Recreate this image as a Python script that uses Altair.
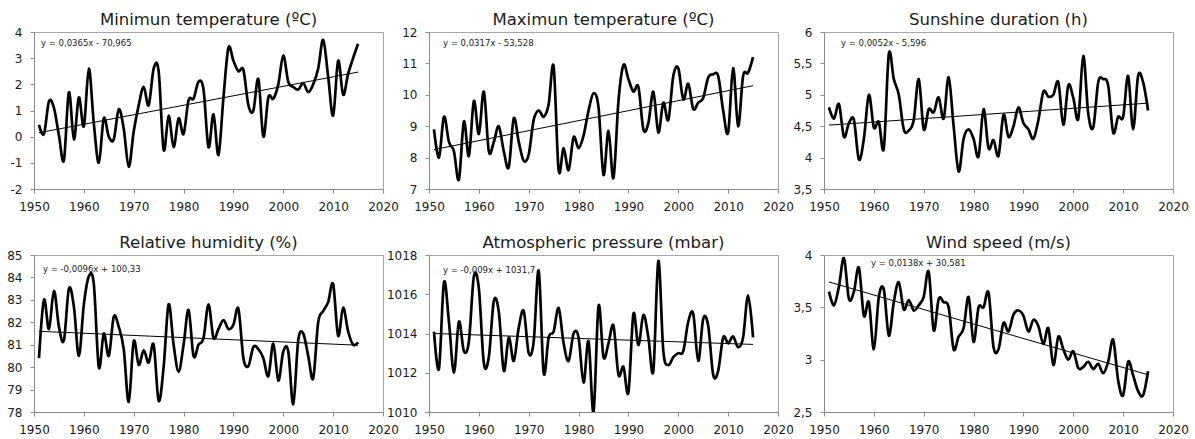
import altair as alt
import pandas as pd

years = list(range(1951, 2016))

min_temp = [0.45, 0.1, 1.35, 1.1, 0.05, -0.9, 1.7, -0.1, 1.5, 0.4,
            2.6, 0.5, -1.0, 0.7, 0.0, -0.1, 1.05, 0.3, -1.15, 0.2,
            1.2, 1.9, 1.2, 2.6, 2.5, -0.5, 0.8, -0.4, 0.7, 0.1,
            1.4, 1.45, 2.1, 1.8, -0.4, 0.85, -0.7, 1.5, 3.4, 2.9,
            2.5, 2.55, 1.2, 1.0, 2.2, 0.0, 1.5, 1.45, 2.0, 3.1,
            2.1, 1.9, 1.8, 2.05, 1.7, 2.0, 2.6, 3.7, 2.3, 0.8,
            2.9, 1.6, 2.4, 3.0, 3.55]

max_temp = [8.9, 8.0, 9.3, 8.5, 8.2, 7.3, 9.15, 8.05, 9.8, 8.75,
            10.1, 8.2, 8.5, 9.0, 8.2, 7.7, 9.25, 8.5, 7.9, 8.1,
            9.2, 9.5, 9.3, 9.7, 10.9, 7.6, 8.3, 7.6, 8.65, 8.3,
            8.7, 9.5, 10.05, 9.6, 7.45, 8.85, 7.35, 9.8, 10.95, 10.5,
            10.1, 10.25, 8.9, 9.1, 10.1, 8.8, 9.75, 9.2, 10.6, 10.85,
            9.85, 10.35, 9.55, 9.75, 9.9, 10.55, 10.65, 10.6, 9.5, 8.8,
            10.85, 9.0, 10.6, 10.7, 11.2]

sunshine = [4.8, 4.62, 4.85, 4.33, 4.55, 4.6, 3.97, 4.3, 5.0, 4.48,
            4.57, 4.15, 5.65, 5.25, 5.0, 4.45, 4.43, 4.6, 5.25, 4.45,
            4.77, 4.72, 4.96, 4.62, 5.28, 4.5, 3.78, 4.3, 4.45, 4.3,
            4.02, 4.77, 4.15, 4.28, 4.03, 4.68, 4.33, 4.5, 4.8, 4.55,
            4.45, 4.3, 4.6, 5.05, 4.97, 5.0, 5.2, 4.52, 5.15, 4.95,
            4.62, 5.62, 4.7, 4.48, 5.2, 5.25, 5.15, 4.4, 4.65, 4.65,
            5.3, 4.45, 5.3, 5.2, 4.75]

humidity = [80.4, 83.0, 81.7, 83.4, 81.8, 81.2, 83.5, 82.7, 80.5, 82.8,
            84.05, 83.7, 80.0, 81.5, 80.5, 82.25, 81.8, 80.8, 78.45, 81.15,
            80.1, 80.75, 80.2, 81.0, 78.5, 80.0, 82.8, 81.0, 79.8, 81.0,
            82.55, 80.5, 81.0, 81.3, 82.8, 81.3, 81.7, 82.1, 81.7, 81.9,
            82.6, 80.4, 80.05, 80.9, 80.8, 80.4, 79.6, 81.05, 79.4, 80.7,
            80.7, 78.35, 81.2, 81.5, 80.5, 79.5, 82.0, 82.5, 82.9, 83.7,
            81.4, 82.65, 81.6, 81.0, 81.1]

pressure = [1014.1, 1012.2, 1016.6, 1014.6, 1012.0, 1014.6, 1013.1, 1013.6, 1016.9, 1016.3,
            1012.5, 1012.8, 1015.65, 1015.1, 1012.1, 1013.8, 1012.6, 1014.3, 1015.15, 1013.0,
            1013.6, 1017.2, 1012.0, 1013.8, 1014.1, 1015.3, 1013.5, 1012.6, 1014.0, 1013.8,
            1011.5, 1013.6, 1010.0, 1015.4, 1012.8, 1013.5, 1014.4, 1011.9, 1012.3, 1011.0,
            1015.0, 1013.4, 1014.95, 1013.8, 1012.1, 1017.7, 1013.1, 1012.4, 1012.8, 1013.0,
            1013.1, 1014.6, 1015.0, 1012.6, 1014.75, 1014.4, 1011.9, 1012.1, 1013.8, 1013.5,
            1013.85, 1013.3, 1013.8, 1015.95, 1013.8]

wind = [3.65, 3.52, 3.7, 3.97, 3.58, 3.65, 3.88, 3.42, 3.55, 3.1,
        3.6, 3.67, 3.23, 3.55, 3.74, 3.48, 3.57, 3.47, 3.52, 3.6,
        3.84, 3.28, 3.58, 3.55, 3.5, 3.1, 3.22, 3.3, 3.6, 3.17,
        3.5, 3.5, 3.64, 3.12, 3.1, 3.35, 3.27, 3.43, 3.47, 3.42,
        3.27, 3.38, 3.32, 3.15, 3.3, 2.95, 3.22, 3.1, 3.0, 3.08,
        2.92, 2.93, 2.98, 2.91, 2.96, 2.87, 2.98, 3.19, 2.8, 2.66,
        2.98, 2.85, 2.7, 2.66, 2.89]

titles = ["Minimun temperature (ºC)", "Maximun temperature (ºC)", "Sunshine duration (h)",
          "Relative humidity (%)", "Atmospheric pressure (mbar)", "Wind speed (m/s)"]

equations = ["y = 0,0365x - 70,965", "y = 0,0317x - 53,528", "y = 0,0052x - 5,596",
             "y = -0,0096x + 100,33", "y = -0,009x + 1031,7", "y =  0,0138x + 30,581"]

x_ticks = [1950, 1960, 1970, 1980, 1990, 2000, 2010, 2020]
y_ticks_min = [-2, -1, 0, 1, 2, 3, 4]
y_ticks_max = [7, 8, 9, 10, 11, 12]
y_ticks_sun = [3.5, 4, 4.5, 5, 5.5, 6]
y_ticks_hum = [78, 79, 80, 81, 82, 83, 84, 85]
y_ticks_pre = [1010, 1012, 1014, 1016, 1018]
y_ticks_win = [2.5, 3, 3.5, 4]

series = [min_temp, max_temp, sunshine, humidity, pressure, wind]
yticks = [y_ticks_min, y_ticks_max, y_ticks_sun, y_ticks_hum, y_ticks_pre, y_ticks_win]
eq_pos = [(7, 11), (14, 11), (17, 11), (9, 14), (14, 15), (47, 8)]

FONT = "DejaVu Sans"
W, H = 349, 157


def panel(i):
    df = pd.DataFrame({"year": years, "value": series[i]})
    yt = yticks[i]
    x = alt.X("year:Q", scale=alt.Scale(domain=[1950, 2020], nice=False, zero=False),
              axis=alt.Axis(values=x_ticks, format="d", title=None,
                            labelFlush=False, labelOverlap=False))
    y = alt.Y("value:Q", scale=alt.Scale(domain=[yt[0], yt[-1]], nice=False, zero=False),
              axis=alt.Axis(values=yt, title=None, labelOverlap=False,
                            labelExpr="replace(toString(datum.value), '.', ',')"))
    base = alt.Chart(df)
    line = base.mark_line(interpolate="cardinal", color="black", strokeWidth=2.7,
                          clip=True).encode(x=x, y=y)
    trend = base.transform_regression("year", "value", extent=[1951, 2015]).mark_line(
        color="black", strokeWidth=1).encode(x=x, y=y)
    ex, ey = eq_pos[i]
    text = alt.Chart(pd.DataFrame({"t": [equations[i]]})).mark_text(
        align="left", baseline="middle", fontSize=8.5, font=FONT, color="#1a1a1a"
    ).encode(x=alt.value(ex), y=alt.value(ey), text="t:N")
    return alt.layer(line, trend, text).properties(
        width=W, height=H,
        title=alt.TitleParams(titles[i], fontSize=16.5, font=FONT, fontWeight="normal",
                              color="#1a1a1a", offset=-2, anchor="middle"))


chart = alt.concat(*[panel(i) for i in range(6)], columns=3,
                   spacing={"row": 66, "column": 46}, bounds="flush").properties(
    padding={"left": 6, "top": 11, "right": 5, "bottom": 5}
).configure_axis(
    grid=False, domainColor="#8c8c8c", tickColor="#8c8c8c", tickSize=4,
    labelFont=FONT, labelFontSize=12, labelColor="#1a1a1a", labelPadding=8
).configure_view(stroke="#a6a6a6", strokeWidth=1)

chart.save("out.html", embed_options={"renderer": "svg", "actions": False})
